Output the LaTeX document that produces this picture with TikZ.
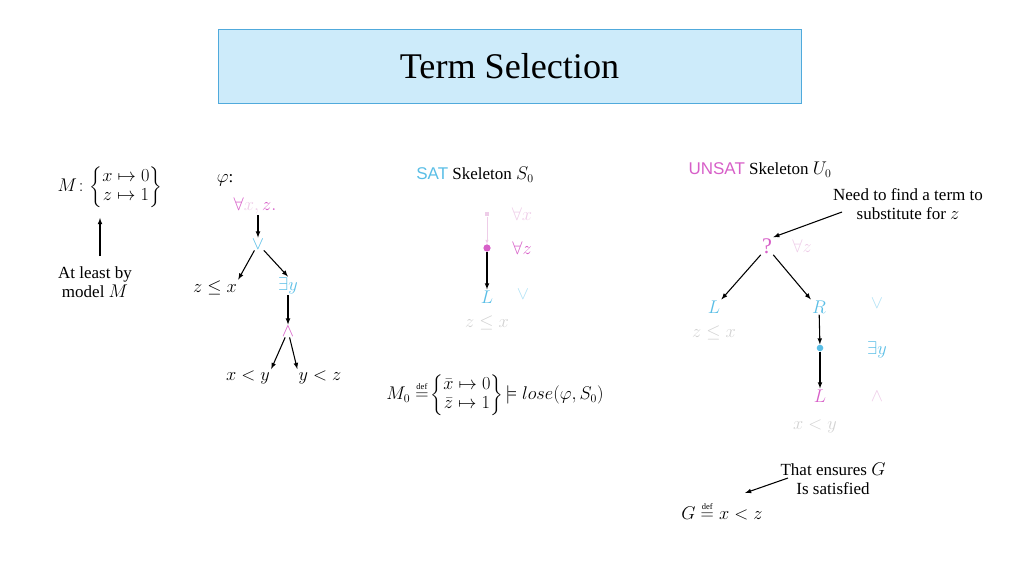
\documentclass[tikz,border=0pt]{standalone}
\usepackage{amsmath}
\usepackage{amssymb}
\usepackage{fontspec}
\setmainfont{Liberation Serif}
\newfontfamily\satfont{Liberation Sans}
\usepackage{tikz}
\definecolor{skyc}{RGB}{90,190,230}
\definecolor{pinkc}{RGB}{215,95,200}
\definecolor{palepink}{RGB}{238,205,232}
\definecolor{paleblue}{RGB}{175,225,245}
\definecolor{greyc}{RGB}{210,210,210}
\definecolor{titlefill}{RGB}{205,235,250}
\definecolor{titleline}{RGB}{80,170,220}
\tikzset{lbl/.style={inner sep=1pt,font=\rmfamily\fontsize{16}{18}\selectfont},
  arr/.style={->,>=latex,line width=1pt}}
\newcommand{\defeq}{\mathrel{\overset{\scriptscriptstyle\mathrm{def}}{=}}}

\begin{document}
\begin{tikzpicture}[x=0.03307cm,y=-0.03307cm]
		\useasboundingbox (0,0) rectangle (1024,576);
		\node[draw=titleline,thick,fill=titlefill,minimum width=583*0.03307cm,minimum height=74*0.03307cm,font=\rmfamily\fontsize{34}{40}\selectfont] (title) at (509.5,66) {Term Selection};
		% model M
		\node[lbl] (M) at (110,187) {$M\colon\!\left\{\begin{matrix}x\mapsto 0\\ z\mapsto 1\end{matrix}\right\}$};
		\node[lbl,align=center] (least) at (95,282) {At least by\\ model $M$};
		\draw[arr] (100,256) -- (100,218);
		% formula tree
		\node[lbl] (phi) at (225,180) {$\varphi$:};
		\node[lbl] (all) at (255,206) {$\color{pinkc}\forall\color{palepink}x,\color{pinkc}z.$};
		\node[lbl,text=skyc] (or) at (258,244) {$\vee$};
		\node[lbl] (zx) at (215,288) {$z\le x$};
		\node[lbl,text=skyc] (ex) at (288,286) {$\exists y$};
		\node[lbl,text=pinkc] (and) at (288,331) {$\wedge$};
		\node[lbl] (xy) at (248,377) {$x<y$};
		\node[lbl] (yz) at (320,377) {$y<z$};
		\draw[arr] (all.south -| or) -- (or);
		\draw[arr] (or) -- (zx.north east);
		\draw[arr] (or) -- (ex.north);
		\draw[arr] (ex) -- (and);
		\draw[arr] (and) -- (xy.north east);
		\draw[arr] (and) -- (yz.north west);
		% SAT skeleton
		\node[lbl] (sat) at (475,175) {{\satfont\color{skyc}SAT} Skeleton $S_0$};
		\node[fill=palepink,inner sep=2.2pt] (d1) at (487,214) {};
		\node[lbl,text=palepink] at (522,214) {$\forall x$};
		\node[circle,fill=pinkc,inner sep=2.4pt] (d2) at (487,248) {};
		\node[lbl,text=pinkc] at (522,248) {$\forall z$};
		\node[lbl,text=skyc] (sl) at (487,297) {$L$};
		\node[lbl,text=paleblue] at (523,294) {$\vee$};
		\node[lbl,text=greyc] at (487,323) {$z\le x$};
		\draw[->,>=latex,palepink] (d1) -- (d2);
		\draw[arr] (d2) -- (sl);
		\node[lbl] (m0) at (495,395) {$M_0\defeq\!\left\{\begin{matrix}\bar{x}\mapsto 0\\ \bar{z}\mapsto 1\end{matrix}\right\}\!\models lose(\varphi,S_0)$};
		% UNSAT skeleton
		\node[lbl] (unsat) at (760,170) {{\satfont\color{pinkc}UNSAT} Skeleton $U_0$};
		\node[lbl,align=center] (need) at (908,204) {Need to find a term to\\ substitute for $z$};
		\node[lbl,text=pinkc,font=\rmfamily\fontsize{21}{22}\selectfont] (q) at (767,246) {?};
		\node[lbl,text=palepink] at (802,246) {$\forall z$};
		\node[lbl,text=skyc] (ul) at (714,307) {$L$};
		\node[lbl,text=skyc] (ur) at (819,307) {$R$};
		\node[lbl,text=paleblue] at (877,303) {$\vee$};
		\node[lbl,text=greyc] at (714,333) {$z\le x$};
		\node[circle,fill=skyc,inner sep=2.2pt] (d3) at (820,348) {};
		\node[lbl,text=skyc] at (877,350) {$\exists y$};
		\node[lbl,text=pinkc] (ul2) at (820,396) {$L$};
		\node[lbl,text=palepink] at (877,396) {$\wedge$};
		\node[lbl,text=greyc] at (815,426) {$x<y$};
		\draw[arr] (842,212) -- (q.north east);
		\draw[arr] (q.south west) -- (ul.north east);
		\draw[arr] (q.south east) -- (ur.north west);
		\draw[arr] (ur) -- (d3);
		\draw[arr] (d3) -- (ul2);
		\node[lbl,align=center] (ens) at (833,479) {That ensures $G$\\ Is satisfied};
		\node[lbl] (G) at (722,511) {$G\defeq x<z$};
		\draw[arr] (788,478) -- (745,493);
\end{tikzpicture}
\end{document}
